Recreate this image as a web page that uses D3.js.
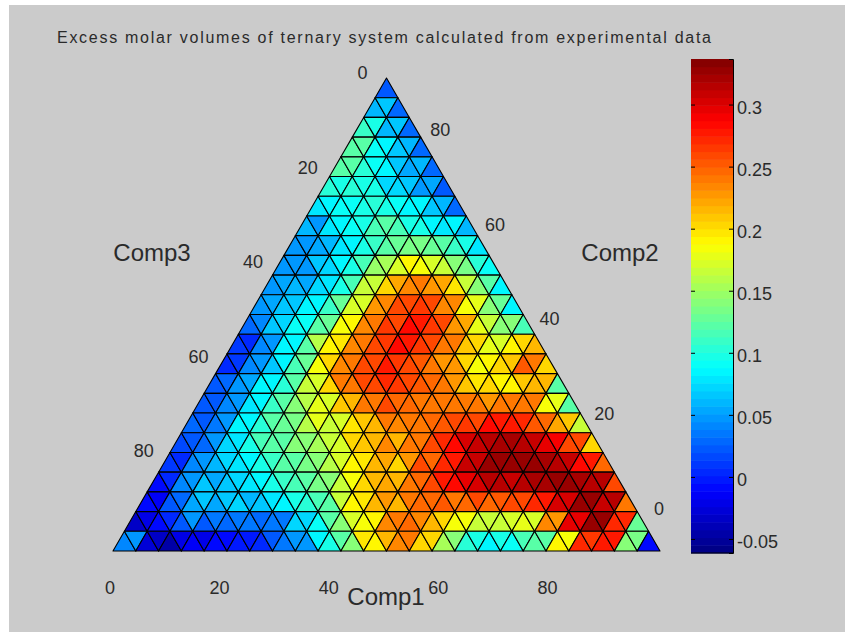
<!DOCTYPE html>
<html lang="en">
<head>
<meta charset="UTF-8">
<title>Excess molar volumes</title>
<script src="https://d3js.org/d3.v7.min.js"></script>
<style>
  html, body { margin: 0; padding: 0; background: #fff; }
  text { font-family: "Liberation Sans", Arial, sans-serif; fill: #2a2a2a; }
</style>
</head>
<body>
<div id="chart"></div>
<script>
// excess volume of each small triangle, row by row from the apex
const row00 = [.02];
const row01 = [.06,.065,.03];
const row02 = [.11,.095,.06,.065,.03];
const row03 = [.125,.12,.09,.085,.065,.06,.03];
const row04 = [.125,.125,.105,.09,.085,.065,.055,.06,.03];
const row05 = [.105,.095,.105,.1,.095,.075,.075,.065,.05,.055,.02];
const row06 = [.08,.085,.09,.09,.095,.105,.1,.09,.085,.085,.065,.06,.03];
const row07 = [.06,.05,.08,.085,.09,.1,.115,.12,.115,.1,.095,.085,.08,.085,.06];
const row08 = [.045,.05,.055,.06,.08,.085,.095,.11,.125,.13,.135,.135,.13,.125,.11,.095,.08];
const row09 = [.045,.05,.05,.065,.07,.085,.095,.115,.145,.155,.175,.19,.185,.175,.165,.14,.135,.105,.09];
const row10 = [.05,.055,.06,.055,.075,.08,.095,.115,.165,.165,.205,.222,.233,.238,.228,.222,.195,.165,.14,.125,.085];
const row11 = [.05,.055,.065,.065,.085,.085,.11,.13,.175,.17,.228,.233,.26,.258,.265,.258,.233,.233,.185,.18,.14,.13,.085];
const row12 = [.03,.04,.065,.07,.09,.09,.12,.13,.185,.19,.233,.243,.265,.26,.285,.278,.265,.258,.228,.222,.18,.165,.14,.14,.115];
const row13 = [.01,.005,.04,.05,.085,.085,.125,.16,.19,.195,.233,.243,.26,.265,.285,.275,.265,.26,.243,.238,.212,.2,.18,.175,.19,.2,.218];
const row14 = [.005,.01,.04,.045,.065,.085,.115,.13,.185,.2,.233,.243,.26,.26,.275,.265,.258,.253,.243,.228,.228,.205,.185,.19,.2,.212,.253,.243,.2];
const row15 = [.02,.03,.045,.055,.085,.085,.105,.12,.165,.175,.2,.238,.243,.258,.258,.27,.265,.258,.253,.248,.238,.228,.212,.195,.2,.19,.19,.212,.218,.218,.12];
const row16 = [.02,.02,.04,.045,.08,.085,.11,.125,.14,.16,.18,.175,.212,.218,.238,.243,.258,.248,.248,.243,.238,.238,.243,.243,.243,.228,.243,.238,.243,.238,.185,.18,.125];
const row17 = [.03,.025,.035,.05,.085,.085,.105,.12,.13,.135,.16,.18,.165,.175,.195,.212,.218,.238,.233,.243,.238,.248,.253,.258,.265,.26,.285,.28,.28,.272,.253,.248,.222,.212,.165];
const row18 = [.015,.02,.03,.045,.07,.08,.1,.115,.12,.125,.14,.14,.155,.165,.175,.2,.212,.218,.233,.218,.238,.243,.26,.272,.285,.3,.31,.315,.32,.32,.315,.31,.295,.29,.26,.26,.2];
const row19 = [.01,.005,.04,.045,.06,.07,.08,.085,.095,.11,.12,.125,.135,.14,.16,.175,.19,.195,.218,.222,.2,.228,.258,.248,.272,.28,.31,.31,.33,.325,.33,.33,.325,.32,.315,.31,.285,.28,.248];
const row20 = [-.01,.005,.04,.05,.065,.055,.065,.075,.08,.085,.1,.11,.115,.12,.135,.14,.165,.185,.2,.218,.222,.218,.243,.248,.26,.275,.285,.295,.305,.315,.315,.31,.315,.32,.32,.325,.325,.32,.315,.315,.26];
const row21 = [-.01,-.015,.02,.03,.055,.065,.055,.065,.07,.06,.065,.08,.085,.095,.105,.115,.12,.165,.19,.195,.218,.228,.218,.243,.248,.248,.253,.243,.248,.258,.248,.253,.26,.258,.272,.275,.305,.3,.325,.325,.31,.315,.243];
const row22 = [-.035,-.02,-.01,.005,.025,.045,.025,.035,.03,.035,.035,.03,.035,.035,.075,.07,.09,.12,.14,.175,.185,.19,.233,.243,.248,.233,.218,.205,.185,.185,.165,.165,.165,.17,.18,.175,.233,.228,.295,.295,.325,.33,.272,.272,.13];
const row23 = [.04,.045,-.03,-.035,-.045,-.02,-.015,-.02,-.01,-.01,-.005,0,.005,.025,.035,.05,.05,.085,.095,.125,.14,.195,.19,.218,.233,.243,.205,.2,.155,.14,.105,.095,.085,.095,.09,.115,.125,.12,.19,.185,.27,.265,.275,.275,.14,.135,-.01];
const rows = [row00,row01,row02,row03,row04,row05,row06,row07,row08,row09,row10,row11,
              row12,row13,row14,row15,row16,row17,row18,row19,row20,row21,row22,row23];

const titleText = "Excess molar volumes of ternary system calculated from experimental data";
const compTicks = [0, 20, 40, 60, 80];
const barTicks = [-0.05, 0, 0.05, 0.1, 0.15, 0.2, 0.25, 0.3];
const barDomain = [-0.0613, 0.3367];

const W = 845, H = 632;
const svg = d3.select("#chart").append("svg")
    .attr("width", W).attr("height", H)
    .style("display", "block");

// grey figure background, screenshot leaves a white strip top and left
svg.append("rect").attr("x", 9).attr("y", 5)
    .attr("width", W - 9).attr("height", H - 5).attr("fill", "#cbcbcb");

// ternary scales: comp1 runs along the base, comp2 up towards the apex
const x = d3.scaleLinear().domain([0, 100]).range([113, 660]);
const y = d3.scaleLinear().domain([0, 100]).range([551, 78]);
const pt = (c1, c2) => [x(c1 + c2 / 2), y(c2)];

// MATLAB jet with 64 levels
function jet(n) {
    const ramp = t => Math.max(0, Math.min(1, 1.5 - Math.abs(4 * t - 2)));
    return d3.range(n).map(i => {
        const t = (i + 0.5) / n;
        return d3.rgb(255 * ramp(t - 0.25), 255 * ramp(t), 255 * ramp(t + 0.25)).formatHex();
    });
}
const color = d3.scaleQuantize().domain(barDomain).range(jet(64));

// build the triangles from row and position in row
const n = rows.length, step = 100 / n;
const cells = [];
rows.forEach((vals, r) => {
    const top = n - r, bot = n - r - 1;   // comp2 levels in grid units
    vals.forEach((v, i) => {
        const k = Math.floor(i / 2);
        let p;
        if (i % 2 === 0) {
            p = [pt(k * step, bot * step), pt((k + 1) * step, bot * step), pt(k * step, top * step)];
        } else {
            p = [pt(k * step, top * step), pt((k + 1) * step, top * step), pt((k + 1) * step, bot * step)];
        }
        cells.push({v: v, p: p});
    });
});

svg.append("g").selectAll("polygon").data(cells).join("polygon")
    .attr("points", d => d.p.map(q => q.join(",")).join(" "))
    .attr("fill", d => color(d.v))
    .attr("stroke", "#000")
    .attr("stroke-width", 1.1)
    .attr("stroke-linejoin", "round");

// title
svg.append("text").attr("x", 57).attr("y", 43)
    .attr("font-size", 16).attr("textLength", 654).attr("lengthAdjust", "spacing")
    .text(titleText);

// tick labels on the three sides
const tickSize = 18;
svg.append("g").selectAll("text").data(compTicks).join("text")   // comp1, base
    .attr("x", d => pt(d, 0)[0] - 3).attr("y", d => pt(d, 0)[1] + 42.5)
    .attr("text-anchor", "middle").attr("font-size", tickSize).text(d => d);
svg.append("g").selectAll("text").data(compTicks).join("text")   // comp2, right side
    .attr("x", d => pt(100 - d, d)[0] - 1).attr("y", d => pt(100 - d, d)[1] - 36.5)
    .attr("text-anchor", "middle").attr("font-size", tickSize).text(d => d);
svg.append("g").selectAll("text").data(compTicks).join("text")   // comp3, left side
    .attr("x", d => pt(0, 100 - d)[0] - 24).attr("y", d => pt(0, 100 - d)[1] + 1)
    .attr("text-anchor", "middle").attr("font-size", tickSize).text(d => d);

// axis names
const nameSize = 24;
svg.append("text").attr("x", 386).attr("y", 605).attr("text-anchor", "middle").attr("font-size", nameSize).text("Comp1");
svg.append("text").attr("x", 620).attr("y", 261).attr("text-anchor", "middle").attr("font-size", nameSize).text("Comp2");
svg.append("text").attr("x", 152).attr("y", 261).attr("text-anchor", "middle").attr("font-size", nameSize).text("Comp3");

// colorbar
const barY = d3.scaleLinear().domain(barDomain).range([553, 59]);
const barX = 691, barW = 42;
const levels = color.range().map((c, i) => ({c: c, e: color.invertExtent(c)}));
svg.append("g").selectAll("rect").data(levels).join("rect")
    .attr("x", barX).attr("width", barW)
    .attr("y", d => barY(d.e[1]))
    .attr("height", d => barY(d.e[0]) - barY(d.e[1]) + 0.5)
    .attr("fill", d => d.c);

const barAxis = svg.append("g").attr("transform", `translate(${barX + barW},0)`)
    .call(d3.axisRight(barY).tickValues(barTicks).tickFormat(d => String(d)).tickSize(-4).tickPadding(4));
barAxis.selectAll("text").attr("font-size", tickSize).attr("dy", "0.5em").attr("fill", "#2a2a2a")
    .style("font-family", '"Liberation Sans", Arial, sans-serif');
barAxis.select(".domain").attr("stroke", "#000");
const barAxisL = svg.append("g").attr("transform", `translate(${barX},0)`)
    .call(d3.axisLeft(barY).tickValues(barTicks).tickFormat("").tickSize(-4));
barAxisL.select(".domain").remove();
svg.append("line").attr("x1", barX).attr("x2", barX + barW).attr("y1", 553).attr("y2", 553).attr("stroke", "#000");
</script>
</body>
</html>
